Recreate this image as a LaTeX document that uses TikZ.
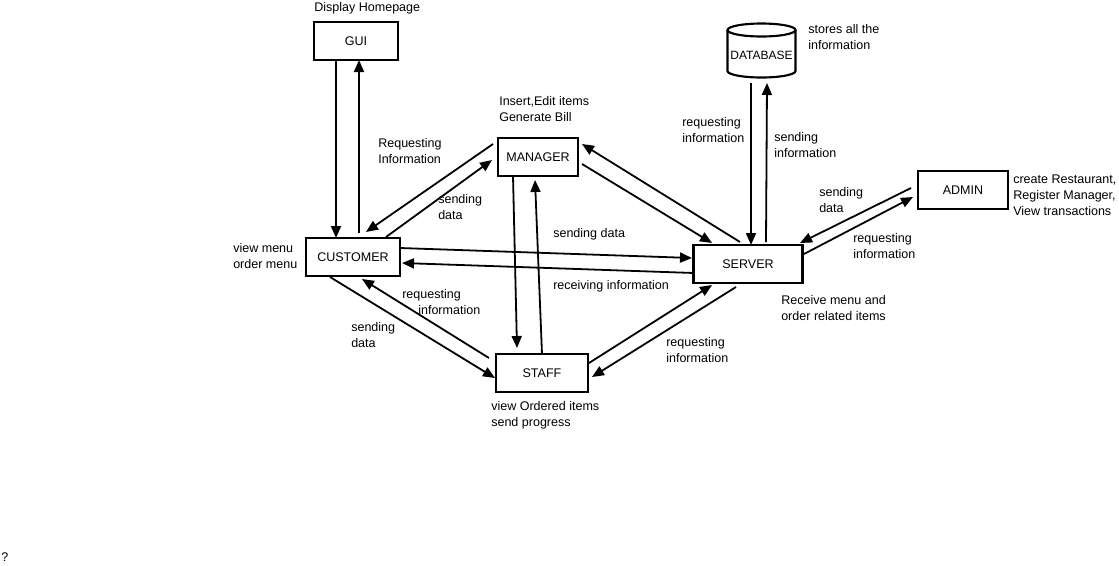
\documentclass[tikz,border=0pt]{standalone}
\usepackage{fontspec}
\setmainfont{Liberation Sans}
\usetikzlibrary{arrows.meta}
\tikzset{
  box/.style={draw, line width=1.6pt, inner sep=0pt, minimum height=28.5pt, font=\fontsize{9.4}{12}\selectfont},
  lbl/.style={anchor=west, inner sep=0pt, align=left, font=\fontsize{9.4}{12}\selectfont},
  conn/.style={line width=1.35pt, -{Triangle[length=9pt,width=7.5pt]}},
}
\newcommand{\rel}[3]{([shift={(#2,#3)}]#1.center)}
\begin{document}
\begin{tikzpicture}[x=0.75pt,y=-0.75pt]
\useasboundingbox (0,0) rectangle (1119,565);
\fill[white] (0,0) rectangle (1119,565);

% boxes
\node[box, minimum width=63pt] (gui) at (356,41) {GUI};
\node[box, minimum width=70.5pt] (cust) at (353,257) {CUSTOMER};
\node[box, minimum width=60pt] (man) at (538,157) {MANAGER};
\node[box, minimum width=69pt] (staff) at (542,373) {STAFF};
\node[box, minimum width=81.75pt] (srv) at (748,264) {SERVER};
\node[box, minimum width=67.5pt] (adm) at (963,190) {ADMIN};

% database cylinder
\draw[line width=1.6pt] (761.5,30) ellipse [x radius=25.5pt, y radius=4.875pt];
\draw[line width=1.6pt] (727.5,30) -- (727.5,71) arc[start angle=180, end angle=360, x radius=25.5pt, y radius=4.875pt] -- (795.5,30);
\node[inner sep=0pt, minimum width=51pt, minimum height=20pt, font=\fontsize{9}{12}\selectfont] (db) at (761.5,55) {DATABASE};

% connectors
\draw[conn] \rel{gui}{-20}{19} -- \rel{cust}{-17}{-19};
\draw[conn] \rel{cust}{6}{-24} -- \rel{gui}{3}{19};
\draw[conn] \rel{man}{-45}{-13} -- \rel{cust}{13}{-25};
\draw[conn] \rel{cust}{33}{-20} -- \rel{man}{-46}{3};
\draw[conn] \rel{man}{-25}{19} -- \rel{staff}{-25}{-25};
\draw[conn] \rel{staff}{0}{-19} -- \rel{man}{-3}{23};
\draw[conn] \rel{cust}{47}{-9} -- \rel{srv}{-56}{-6};
\draw[conn] \rel{srv}{-54}{9} -- \rel{cust}{49}{6};
\draw[conn] \rel{srv}{-8}{-22} -- \rel{man}{44}{-13};
\draw[conn] \rel{man}{44}{7} -- \rel{srv}{-36}{-21};
\draw[conn] \rel{db}{-10.5}{28} -- \rel{srv}{3}{-19};
\draw[conn] \rel{srv}{18}{-22} -- \rel{db}{5.5}{28};
\draw[conn] \rel{adm}{-52}{-2} -- \rel{srv}{52}{-21};
\draw[conn] \rel{srv}{56}{-10} -- \rel{adm}{-50}{7};
\draw[conn] \rel{cust}{-23}{20} -- \rel{staff}{-47}{5};
\draw[conn] \rel{staff}{-53}{-15} -- \rel{cust}{9}{22};
\draw[conn] \rel{staff}{47}{-10} -- \rel{srv}{-36}{21};
\draw[conn] \rel{srv}{-12}{23} -- \rel{staff}{50}{4};

% labels
\node[lbl] (l1) at (314,8) {Display Homepage};
\node[lbl] (l2) at (499,109) {Insert,Edit items\\Generate Bill};
\node[lbl] (l3) at (378,151) {Requesting\\Information};
\node[lbl] (l4) at (438,207.5) {sending\\data};
\node[lbl] (l5) at (233,256) {view menu\\order menu};
\node[lbl] (l6) at (553,234) {sending data};
\node[lbl] (l7) at (553,286) {receiving information};
\node[lbl] (l8) at (402,302.5) {requesting\\\hspace*{12pt}information};
\node[lbl] (l9) at (351,335.5) {sending\\data};
\node[lbl] (l10) at (491,415) {view Ordered items\\send progress};
\node[lbl] (l11) at (666,350.5) {requesting\\information};
\node[lbl] (l12) at (781,308) {Receive menu and\\order related items};
\node[lbl] (l13) at (682,130.5) {requesting\\information};
\node[lbl] (l14) at (774,145) {sending\\information};
\node[lbl] (l15) at (808,37) {stores all the\\information};
\node[lbl] (l16) at (819,200) {sending\\data};
\node[lbl] (l17) at (853,246) {requesting\\information};
\node[lbl] (l18) at (1013,195) {create Restaurant,\\Register Manager,\\View transactions};
\node[lbl] (l19) at (1,557) {?};
\end{tikzpicture}
\end{document}
